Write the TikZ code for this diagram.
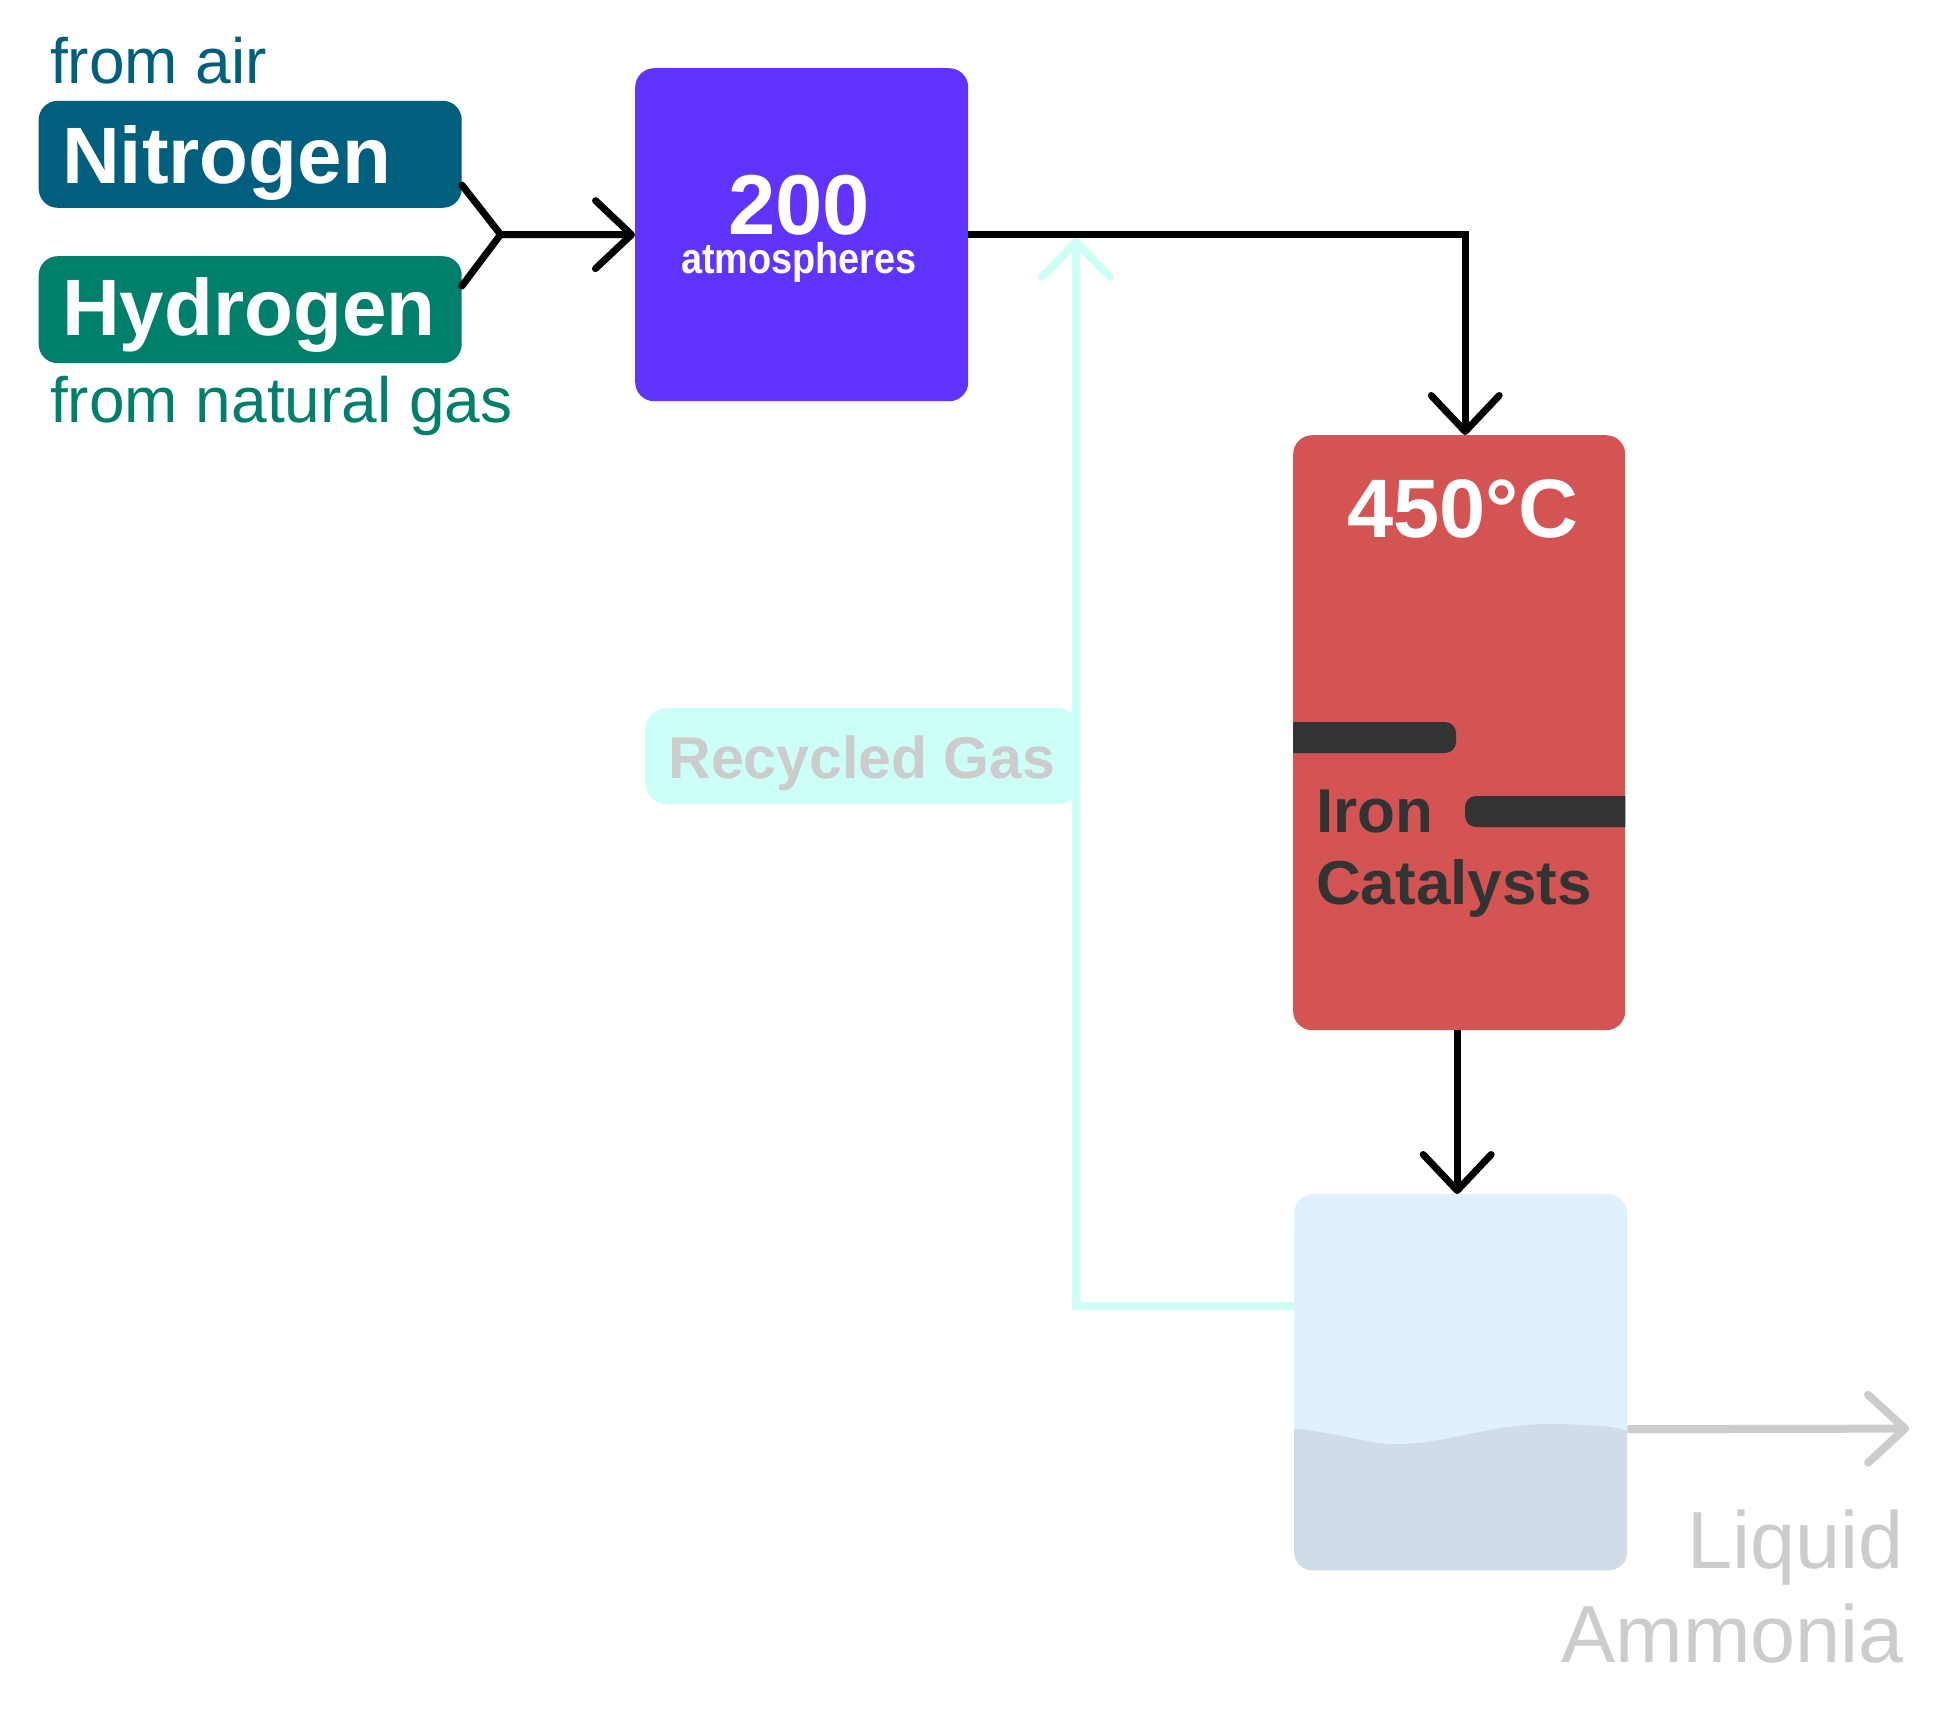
\documentclass[tikz,border=0pt]{standalone}
\usepackage{fontspec}
\setmainfont{Liberation Sans}
\usetikzlibrary{arrows.meta,calc}
\definecolor{nitro}{RGB}{0,95,125}
\definecolor{hydro}{RGB}{0,128,106}
\definecolor{purp}{RGB}{97,51,255}
\definecolor{redc}{RGB}{212,84,84}
\definecolor{darkc}{RGB}{51,51,51}
\definecolor{tankc}{RGB}{224,240,253}
\definecolor{liqc}{RGB}{208,221,232}
\definecolor{cyanc}{RGB}{204,255,245}
\definecolor{grayc}{RGB}{204,204,204}
\newcommand\Fsz[1]{\fontsize{#1}{#1}\selectfont}
\begin{document}
\begin{tikzpicture}[x=1pt,y=-1pt,
  box/.style={rounded corners=19pt, inner sep=0pt, draw=none, anchor=north west},
  txt/.style={inner sep=0pt, anchor=base west},
  arr/.style={line width=7pt, -{Straight Barb[length=36pt,width=68pt,round]}},
  arrc/.style={line width=8pt, cyanc, -{Straight Barb[length=35pt,width=68pt,round]}},
  arrg/.style={line width=8pt, grayc, -{Straight Barb[length=37pt,width=68pt,round]}}]
\fill[white] (0,0) rectangle (1948,1720);
\useasboundingbox (0,0) rectangle (1948,1720);

% boxes
\node[box, fill=nitro, minimum width=423pt, minimum height=107pt] (n) at (38.5,100.6) {};
\node[box, fill=hydro, minimum width=423pt, minimum height=107pt] (h) at (38.5,256) {};
\node[box, fill=purp, minimum width=333pt, minimum height=333pt] (p) at (635,68) {};
\node[box, fill=redc, minimum width=332pt, minimum height=595pt] (r) at (1293,435) {};
\node[box, fill=tankc, minimum width=333pt, minimum height=376pt] (t) at (1294,1194) {};
\node[box, fill=cyanc, minimum width=435pt, minimum height=96pt, rounded corners=22pt] (rg) at (645,708) {};

% liquid
\begin{scope}
\clip[rounded corners=19pt] (t.north west) rectangle (t.south east);
\fill[liqc] (1294,1429) .. controls (1340,1432) and (1370,1446) .. (1404,1444)
  .. controls (1450,1442) and (1490,1425) .. (1545,1424)
  .. controls (1590,1424) and (1620,1427) .. (1627,1431)
  -- (1627,1580) -- (1294,1580) -- cycle;
\end{scope}

% catalyst bars
\begin{scope}
\clip (r.north west) rectangle (r.south east);
\fill[darkc, rounded corners=11pt] (1270,722) rectangle (1456,753);
\fill[darkc, rounded corners=11pt] (1465,796) rectangle (1660,827);
\end{scope}

% texts
\node[txt, text=nitro] (fa) at (50,84) {\Fsz{64}from air};
\node[txt, text=white] (nt) at (62,184) {\Fsz{80}\bfseries Nitrogen};
\node[txt, text=white] (ht) at (62,335) {\Fsz{80}\bfseries Hydrogen};
\node[txt, text=hydro] (fg) at (50,422) {\Fsz{64}from natural gas};
\node[inner sep=0pt, anchor=base, text=white, text depth=0pt] (t200) at (799,235) {\Fsz{85}\bfseries 200};
\node[inner sep=0pt, anchor=base, text=white, text height=30pt] (tatm) at (799,274) {\scalebox{0.88}[1]{\Fsz{43}\bfseries atmospheres}};
\node[inner sep=0pt, anchor=base, text=white] (t450) at (1463,537) {\Fsz{83}\bfseries 450°C};
\node[txt, text=darkc] (ti) at (1316,832) {\Fsz{62}\bfseries Iron};
\node[txt, text=darkc] (tc) at (1316,904.5) {\Fsz{62}\bfseries Catalysts};
\node[inner sep=0pt, anchor=base, text=grayc] (trg) at (862,778) {\Fsz{59}\bfseries Recycled Gas};
\node[inner sep=0pt, anchor=base east, text=grayc] (tl) at (1904,1568) {\Fsz{81}Liquid};
\node[inner sep=0pt, anchor=base east, text=grayc] (tam) at (1904,1662) {\Fsz{81}Ammonia};

% connectors
\coordinate (m) at (500.6,234.5);
\coordinate (rc) at (1076,238);
\coordinate (out) at (1909,1428.6);
\draw[arrc] ([yshift=76pt]t.west) -| (rc);
\draw[line width=7pt, line cap=round, line join=miter] ([yshift=23pt]n.south east) -- (m) -- ([yshift=-30pt]h.north east);
\draw[arr] (m) -- (p.west);
\draw[arr] (p.east) -| ([xshift=6pt]r.north);
\draw[arr] ([xshift=-2pt]r.south) -- ([xshift=-2pt]r.south |- t.north);
\draw[arrg] ([yshift=-47pt]t.east) -- (out);
\end{tikzpicture}
\end{document}
